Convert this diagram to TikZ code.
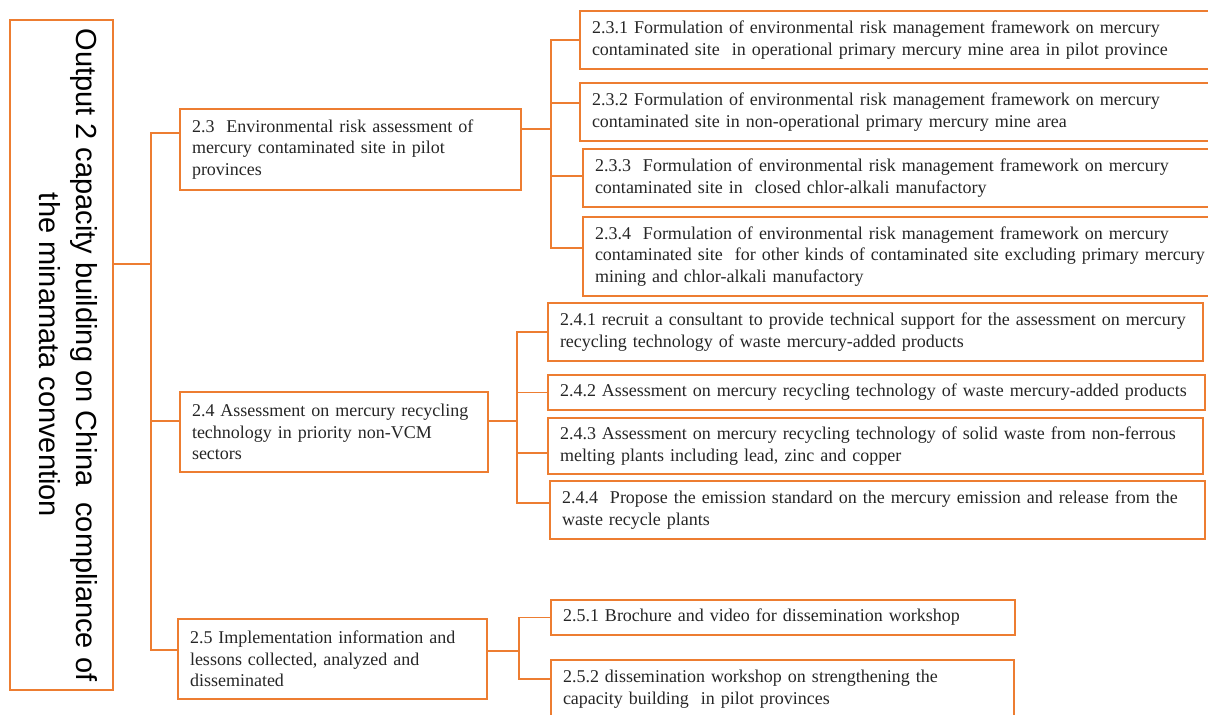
\documentclass[tikz,border=0pt]{standalone}
\usepackage{fontspec}
\setmainfont{Liberation Serif}
\newfontfamily\outfont{Liberation Sans}
\definecolor{orng}{RGB}{237,125,49}

\begin{document}
\begin{tikzpicture}[x=1pt,y=-1pt,
    bx/.style={draw=orng,line width=1.3pt,inner xsep=12pt,inner ysep=0pt,
      align=left,text=black!85,font=\fontsize{18}{21.5}\selectfont},
    wd/.style={minimum width=#1pt,text width=#1pt-24pt},
    outbx/.style={draw=orng,line width=1.3pt,rotate=-90,align=center,
      minimum width=670pt,minimum height=103pt,inner sep=0pt,
      font=\outfont\fontsize{29}{37}\selectfont},
    ln/.style={draw=orng,line width=1.3pt}]
  \useasboundingbox (0,0) rectangle (1208,715);
  \clip (0,0) rectangle (1208,715);
  \node[outbx] (out) at (61.5,355) {Output 2 capacity building on China\ \ compliance of\\the minamata convention\rule[-14pt]{0pt}{0pt}};
  % second level
  \node[bx,wd=341,minimum height=81pt] (n23) at (350.5,149.5) {2.3\ \ Environmental risk assessment of\\mercury contaminated site in pilot\\provinces};
  \node[bx,wd=308,minimum height=80pt] (n24) at (334,432) {2.4 Assessment on mercury recycling\\technology in priority non-VCM\\sectors};
  \node[bx,wd=309,minimum height=80pt] (n25) at (332.5,659) {2.5 Implementation information and\\lessons collected, analyzed and\\disseminated};
  % third level
  \node[bx,wd=640,minimum height=58pt] (n231) at (900,40) {2.3.1 Formulation of environmental risk management framework on mercury\\contaminated site\ \ in operational primary mercury mine area in pilot province};
  \node[bx,wd=640,minimum height=58pt] (n232) at (900,112) {2.3.2 Formulation of environmental risk management framework on mercury\\contaminated site in non-operational primary mercury mine area};
  \node[bx,wd=637,minimum height=58pt] (n233) at (901.5,178) {2.3.3\ \ Formulation of environmental risk management framework on mercury\\contaminated site in\ \ closed chlor-alkali manufactory};
  \node[bx,wd=637,minimum height=79pt] (n234) at (901.5,256.5) {2.3.4\ \ Formulation of environmental risk management framework on mercury\\contaminated site\ \ for other kinds of contaminated site excluding primary mercury\\mining and chlor-alkali manufactory};
  \node[bx,wd=655,minimum height=58pt] (n241) at (875.5,332) {2.4.1 recruit a consultant to provide technical support for the assessment on mercury\\recycling technology of waste mercury-added products};
  \node[bx,wd=657,minimum height=35pt] (n242) at (876.5,392.5) {2.4.2 Assessment on mercury recycling technology of waste mercury-added products};
  \node[bx,wd=655,minimum height=56pt] (n243) at (875.5,446) {2.4.3 Assessment on mercury recycling technology of solid waste from non-ferrous\\melting plants including lead, zinc and copper};
  \node[bx,wd=655,minimum height=58pt] (n244) at (877.5,510) {2.4.4\ \ Propose the emission standard on the mercury emission and release from the\\waste recycle plants};
  \node[bx,wd=464,minimum height=35pt] (n251) at (783,617.5) {2.5.1 Brochure and video for dissemination workshop};
  \node[bx,wd=463,minimum height=58pt] (n252) at (782.5,689) {2.5.2 dissemination workshop on strengthening the\\capacity building\ \ in pilot provinces};
  % trunks
  \coordinate (tr1) at (151,264);
  \coordinate (tr23) at (551,129);
  \coordinate (tr24) at (517,421);
  \coordinate (tr25) at (519,651);
  \draw[ln] (out.north |- tr1) -- (tr1);
  \draw[ln] ([yshift=16.5pt]n23.west) -| (tr1);
  \draw[ln] ([yshift=11pt]n24.west) -| (tr1);
  \draw[ln] ([yshift=9pt]n25.west) -| (tr1);
  \draw[ln] (n23.east |- tr23) -- (tr23);
  \draw[ln] (n231.west) -| (tr23);
  \draw[ln] ([yshift=9pt]n232.west) -| (tr23);
  \draw[ln] ([yshift=2pt]n233.west) -| (tr23);
  \draw[ln] ([yshift=8.5pt]n234.west) -| (tr23);
  \draw[ln] (n24.east |- tr24) -- (tr24);
  \draw[ln] (n241.west) -| (tr24);
  \draw[ln] (n242.west) -| (tr24);
  \draw[ln] ([yshift=-7pt]n243.west) -| (tr24);
  \draw[ln] ([yshift=7pt]n244.west) -| (tr24);
  \draw[ln] (n25.east |- tr25) -- (tr25);
  \draw[ln] (n251.west) -| (tr25);
  \draw[ln] ([yshift=10pt]n252.west) -| (tr25);
\end{tikzpicture}
\end{document}
